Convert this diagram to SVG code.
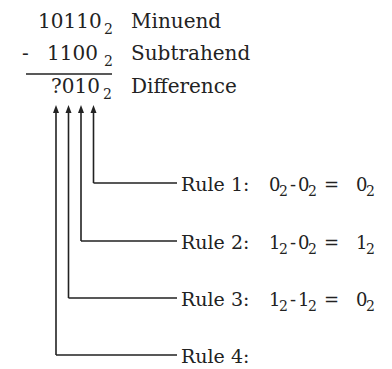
<svg xmlns="http://www.w3.org/2000/svg" width="392" height="369" viewBox="0 0 392 369">
<style>
text{font-family:"DejaVu Serif","Liberation Serif",serif;fill:#222;}
.n{font-size:20px;}
.s{font-size:14px;}
.l{font-size:20px;}
.r{font-size:19px;}
.d{font-size:18px;}
.ln{stroke:#222;stroke-width:1.6;fill:none;}
</style>
<rect width="392" height="369" fill="#fff"/>
<g id="minuend">
<text class="n" x="38" y="28">10110</text><text class="s" x="104" y="34">2</text>
<text class="l" x="131" y="28">Minuend</text>
</g>
<g id="subtrahend">
<text class="n" x="22" y="60">-</text>
<text class="n" x="47" y="60">1100</text><text class="s" x="104" y="66">2</text>
<text class="l" x="131" y="60">Subtrahend</text>
</g>
<line class="ln" x1="26" y1="74" x2="112" y2="74"/>
<g id="difference">
<text class="n" x="51" y="93">?010</text><text class="s" x="103" y="99">2</text>
<text class="l" x="131" y="93">Difference</text>
</g>
<g id="connectors">
<path class="ln" d="M93.5,183 V110 M93.5,183 H177"/>
<path class="ln" d="M81,241 V110 M81,241 H177"/>
<path class="ln" d="M68.5,298 V110 M68.5,298 H177"/>
<path class="ln" d="M56,355 V110 M56,355 H177"/>
<path d="M90.5,113 L93.5,105 L96.5,113 Z M78,113 L81,105 L84,113 Z M65.5,113 L68.5,105 L71.5,113 Z M53,113 L56,105 L59,113 Z" fill="#222"/>
</g>
<g id="rule1">
<text class="r" x="181" y="191">Rule 1:</text>
<text class="d" x="269" y="191">0</text><text class="s" x="279" y="196">2</text>
<text class="d" x="290" y="191">-</text>
<text class="d" x="298" y="191">0</text><text class="s" x="308" y="196">2</text>
<text class="d" x="324" y="191">=</text>
<text class="d" x="356" y="191">0</text><text class="s" x="366" y="196">2</text>
</g>
<g id="rule2">
<text class="r" x="181" y="249">Rule 2:</text>
<text class="d" x="269" y="249">1</text><text class="s" x="279" y="254">2</text>
<text class="d" x="290" y="249">-</text>
<text class="d" x="298" y="249">0</text><text class="s" x="308" y="254">2</text>
<text class="d" x="324" y="249">=</text>
<text class="d" x="356" y="249">1</text><text class="s" x="366" y="254">2</text>
</g>
<g id="rule3">
<text class="r" x="181" y="306">Rule 3:</text>
<text class="d" x="269" y="306">1</text><text class="s" x="279" y="311">2</text>
<text class="d" x="290" y="306">-</text>
<text class="d" x="298" y="306">1</text><text class="s" x="308" y="311">2</text>
<text class="d" x="324" y="306">=</text>
<text class="d" x="356" y="306">0</text><text class="s" x="366" y="311">2</text>
</g>
<g id="rule4">
<text class="r" x="181" y="363">Rule 4:</text>
</g>
</svg>
